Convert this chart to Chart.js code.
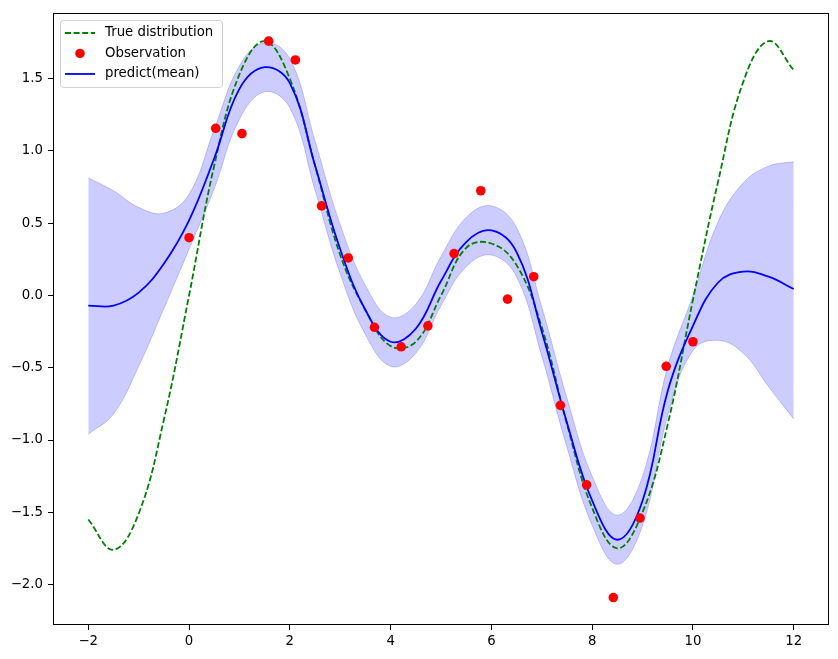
<!DOCTYPE html>
<html lang="en">
<head>
  <meta charset="UTF-8">
  <title>Gaussian process prediction</title>
  <script src="https://cdn.jsdelivr.net/npm/chart.js"></script>
  <style>
    html, body { margin: 0; padding: 0; background: #fff; }
    #wrap { width: 838px; height: 659px; }
  </style>
</head>
<body>

<div id="wrap">
  <canvas id="gpChart"></canvas>
</div>

<script>
const xGrid = [-2, -1.5, -1, -0.5, 0, 0.5, 1, 1.5, 2, 2.5, 3, 3.5, 4, 4.5, 5,
               5.5, 6, 6.5, 7, 7.5, 8, 8.5, 9, 9.5, 10, 10.5, 11, 11.5, 12];

// true distribution (green dashed)
const trueY = [-1.55, -1.76, -1.51, -0.86, 0.00, 0.90, 1.53, 1.76, 1.50, 0.90, 0.28, -0.10, -0.35, -0.32, 0.00,
               0.33, 0.36, 0.21, -0.22, -0.89, -1.47, -1.75, -1.50, -0.89, -0.03, 0.79, 1.48, 1.76, 1.56];

// predicted mean (blue)
const meanY = [-0.07, -0.07, 0.02, 0.22, 0.52, 0.95, 1.43, 1.58, 1.47, 0.90, 0.32, -0.10, -0.32, -0.23, 0.10,
               0.37, 0.45, 0.30, -0.25, -0.88, -1.42, -1.69, -1.42, -0.66, -0.21, 0.09, 0.165, 0.13, 0.045];

// confidence band edges
const upperY = [0.815, 0.725, 0.61, 0.57, 0.70, 1.15, 1.59, 1.75, 1.64, 1.07, 0.49, 0.07, -0.15, -0.06, 0.27,
                0.54, 0.62, 0.47, -0.08, -0.71, -1.25, -1.52, -1.25, -0.49, 0.00, 0.51, 0.78, 0.895, 0.925];
const lowerY = [-0.96, -0.82, -0.49, -0.09, 0.32, 0.74, 1.22, 1.41, 1.30, 0.73, 0.15, -0.27, -0.49, -0.40, -0.07,
                0.20, 0.28, 0.13, -0.42, -1.05, -1.59, -1.86, -1.59, -0.83, -0.38, -0.31, -0.40, -0.63, -0.855];

// observations (red dots)
const obsX = [0, 0.53, 1.05, 1.58, 2.11, 2.63, 3.16, 3.68, 4.21, 4.74,
              5.26, 5.79, 6.32, 6.84, 7.37, 7.89, 8.42, 8.95, 9.47, 10.0];
const obsY = [0.40, 1.157, 1.12, 1.76, 1.63, 0.62, 0.26, -0.22, -0.355, -0.21,
              0.29, 0.725, -0.025, 0.13, -0.76, -1.31, -2.09, -1.54, -0.49, -0.32];

const xTicks = [-2, 0, 2, 4, 6, 8, 10, 12];
const yTicks = [-2.0, -1.5, -1.0, -0.5, 0.0, 0.5, 1.0, 1.5];

const pts = (xs, ys) => xs.map((x, i) => ({ x: x, y: ys[i] }));
const fmt = (v, d) => v.toFixed(d).replace('-', '\u2212');
const tickFont = { family: 'DejaVu Sans', size: 13.3 };

// box around the plot area + matplotlib style legend
const frameAndLegend = {
  id: 'frameAndLegend',
  afterDatasetsDraw(chart) {
    const ctx = chart.ctx;
    const a = chart.chartArea;
    ctx.save();
    ctx.strokeStyle = '#000';
    ctx.lineWidth = 1;
    ctx.strokeRect(Math.round(a.left) + 0.5, Math.round(a.top) + 0.5,
                   Math.round(a.right - a.left) - 1, Math.round(a.bottom - a.top) - 1);

    const bx = a.left + 7, by = a.top + 7, bw = 162, bh = 67;
    ctx.beginPath();
    ctx.roundRect(bx + 0.5, by + 0.5, bw, bh, 3);
    ctx.fillStyle = 'rgba(255,255,255,0.8)';
    ctx.fill();
    ctx.strokeStyle = 'rgba(204,204,204,0.9)';
    ctx.stroke();

    ctx.font = '13.3px "DejaVu Sans"';
    ctx.textBaseline = 'middle';
    const items = chart.data.datasets.filter(d => d.legendRow !== undefined)
      .sort((p, q) => p.legendRow - q.legendRow);
    items.forEach((d, i) => {
      const y = by + 13 + i * 20.5;
      const hx = bx + 5;
      if (d.type === 'scatter') {
        ctx.beginPath();
        ctx.arc(hx + 15, y, d.pointRadius, 0, Math.PI * 2);
        ctx.fillStyle = d.backgroundColor;
        ctx.fill();
      } else {
        ctx.beginPath();
        ctx.setLineDash(d.borderDash || []);
        ctx.moveTo(hx, y);
        ctx.lineTo(hx + 30, y);
        ctx.strokeStyle = d.borderColor;
        ctx.lineWidth = d.borderWidth;
        ctx.stroke();
        ctx.setLineDash([]);
      }
      ctx.fillStyle = '#000';
      ctx.fillText(d.label, hx + 40, y);
    });
    ctx.restore();
  }
};

new Chart(document.getElementById('gpChart'), {
  type: 'line',
  data: {
    datasets: [
      {
        type: 'scatter',
        label: 'Observation',
        legendRow: 1,
        data: pts(obsX, obsY),
        backgroundColor: '#ff0000',
        borderWidth: 0,
        pointRadius: 4.8,
        order: 0
      },
      {
        label: 'predict(mean)',
        legendRow: 2,
        data: pts(xGrid, meanY),
        borderColor: '#0000ff',
        borderWidth: 1.8,
        pointRadius: 0,
        tension: 0.4,
        fill: false,
        order: 1
      },
      {
        label: 'True distribution',
        legendRow: 0,
        data: pts(xGrid, trueY),
        borderColor: '#008000',
        borderWidth: 1.8,
        borderDash: [6, 2.6],
        pointRadius: 0,
        tension: 0.4,
        fill: false,
        order: 2
      },
      {
        label: 'upper',
        data: pts(xGrid, upperY),
        borderColor: 'rgba(0,0,255,0.2)',
        borderWidth: 1,
        pointRadius: 0,
        tension: 0.4,
        fill: false,
        order: 4
      },
      {
        label: 'lower',
        data: pts(xGrid, lowerY),
        borderColor: 'rgba(0,0,255,0.2)',
        backgroundColor: 'rgba(0,0,255,0.2)',
        borderWidth: 1,
        pointRadius: 0,
        tension: 0.4,
        fill: '-1',
        order: 3
      }
    ]
  },
  options: {
    responsive: true,
    maintainAspectRatio: false,
    animation: false,
    layout: { padding: { top: 9, right: 9, left: 0, bottom: 0 } },
    plugins: {
      legend: { display: false },
      tooltip: { enabled: false }
    },
    scales: {
      x: {
        type: 'linear',
        min: -2.7,
        max: 12.7,
        afterBuildTicks: s => { s.ticks = xTicks.map(v => ({ value: v })); },
        afterFit: s => { s.height = 34; },
        ticks: { callback: v => fmt(v, 0), color: '#000', font: tickFont, padding: 4, maxRotation: 0, autoSkip: false },
        grid: { drawOnChartArea: false, drawTicks: true, tickLength: 5, tickColor: '#000' },
        border: { display: false }
      },
      y: {
        type: 'linear',
        min: -2.28,
        max: 1.955,
        afterBuildTicks: s => { s.ticks = yTicks.map(v => ({ value: v })); },
        afterFit: s => { s.width = 53; },
        ticks: { callback: v => fmt(v, 1), color: '#000', font: tickFont, padding: 5, autoSkip: false },
        grid: { drawOnChartArea: false, drawTicks: true, tickLength: 5, tickColor: '#000' },
        border: { display: false }
      }
    }
  },
  plugins: [frameAndLegend]
});
</script>

</body>
</html>
